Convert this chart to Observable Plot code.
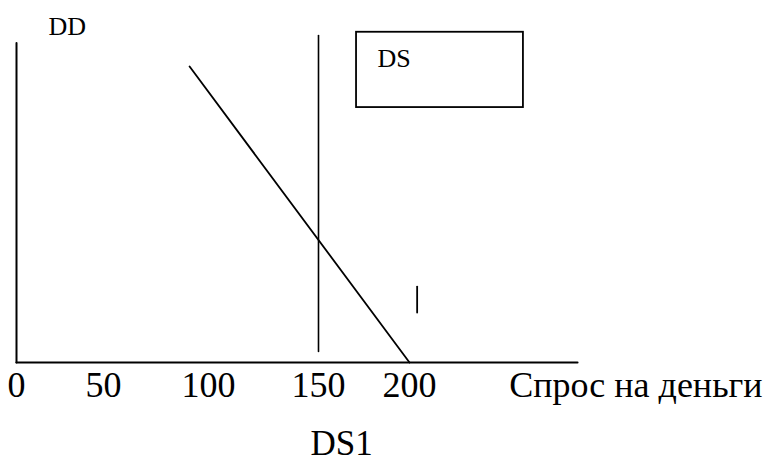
<!DOCTYPE html>
<html>
<head>
<meta charset="utf-8">
<script src="https://cdn.jsdelivr.net/npm/d3@7"></script>
<script src="https://cdn.jsdelivr.net/npm/@observablehq/plot@0.6"></script>
<style>
  html, body { margin: 0; padding: 0; background: #fff; }
  #chart svg text { font-family: "Times New Roman", "Liberation Serif", "DejaVu Serif", serif !important; }
</style>
</head>
<body>
<div id="chart"></div>
<script>
// Tick labels along the horizontal axis (hand-placed in the original drawing)
const tickValues = [0, 50, 100, 150, 200];
const tickLabels = ["0", "50", "100", "150", "200"];

// Money demand curve DD (downward sloping)
const ddX = [91, 200];
const ddY = [90.8, 0];

// Money supply DS (vertical at 150)
const dsX = [150, 150];
const dsY = [3.4, 100.3];

// Axes extents
const yAxisX = [0, 0];
const yAxisY = [98, 0];
const xAxisX = [0, 292.3];
const xAxisY = [0, 0];

// Legend box for DS
const boxX = [170.9, 262.6];
const boxY = [78.2, 101.3];

// Small stray mark
const markX = [204.2, 204.2];
const markY = [15.3, 23.3];

// Text annotations
const labelsText = ["DD", "DS", "Спрос на деньги", "DS1"];
const labelsX = [18.4, 182.4, 394, 146.4];
const labelsY = [100.6, 90.5, -10.7, -28.4];
const labelsSize = [26, 26, 36, 35];
const labelsAnchor = ["start", "start", "end", "start"];

const line = (xs, ys) => xs.map((x, i) => ({x, y: ys[i]}));

const chart = Plot.plot({
  width: 765,
  height: 463,
  margin: 0,
  style: {background: "#fff", overflow: "visible"},
  x: {type: "linear", domain: [0, 50, 100, 150, 200], range: [16, 103, 208, 318, 409], axis: null},
  y: {type: "linear", domain: [0, 100], range: [362, 36], axis: null},
  marks: [
    Plot.line(line(yAxisX, yAxisY), {x: "x", y: "y", stroke: "#000", strokeWidth: 2}),
    Plot.line(line(xAxisX, xAxisY), {x: "x", y: "y", stroke: "#000", strokeWidth: 2.2}),
    Plot.line(line(dsX, dsY), {x: "x", y: "y", stroke: "#000", strokeWidth: 1.6}),
    Plot.line(line(ddX, ddY), {x: "x", y: "y", stroke: "#000", strokeWidth: 1.8}),
    Plot.line(line(markX, markY), {x: "x", y: "y", stroke: "#000", strokeWidth: 1.8}),
    Plot.rect([{x1: boxX[0], x2: boxX[1], y1: boxY[0], y2: boxY[1]}],
      {x1: "x1", x2: "x2", y1: "y1", y2: "y2", fill: "none", stroke: "#000", strokeWidth: 1.8}),
    Plot.text(tickValues.map((v, i) => ({x: v, label: tickLabels[i]})),
      {x: "x", y: () => -10.7, text: "label", fontSize: 36, fill: "#000", textAnchor: "middle", lineAnchor: "bottom"}),
    ...labelsText.map((t, i) => Plot.text([{x: labelsX[i], y: labelsY[i], t}],
      {x: "x", y: "y", text: "t", fontSize: labelsSize[i], fill: "#000", textAnchor: labelsAnchor[i], lineAnchor: "bottom"}))
  ]
});
document.getElementById("chart").appendChild(chart);
</script>
</body>
</html>
